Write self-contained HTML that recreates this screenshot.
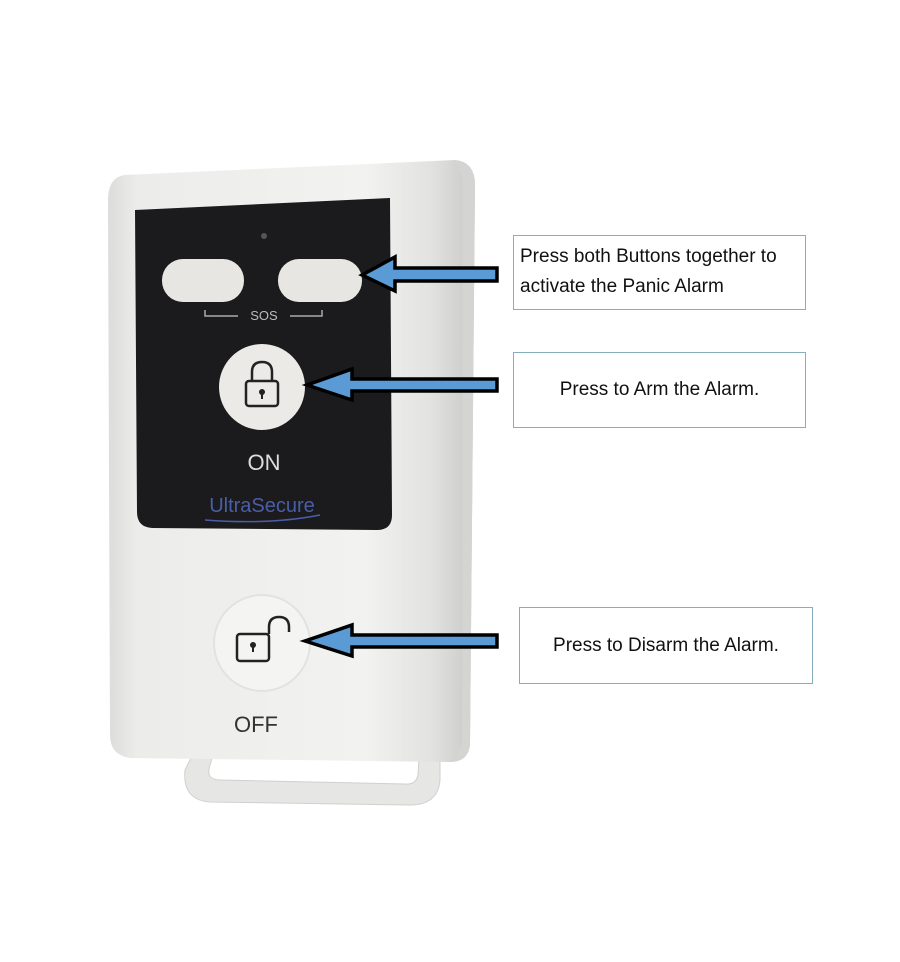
<!DOCTYPE html>
<html><head><meta charset="utf-8"><style>
body{margin:0;background:#fff;width:900px;height:962px;position:relative;overflow:hidden;font-family:"Liberation Sans",sans-serif}
.box{position:absolute;border:1.5px solid #86aebf;background:#fff;font-size:19px;color:#111;box-sizing:border-box;white-space:nowrap}
</style></head><body>
<svg width="900" height="962" style="position:absolute;left:0;top:0">
<defs>
<linearGradient id="body" x1="0" x2="1">
<stop offset="0" stop-color="#dcdcda"/><stop offset="0.08" stop-color="#ececea"/><stop offset="0.7" stop-color="#f2f2f0"/><stop offset="0.88" stop-color="#e2e2e0"/><stop offset="1" stop-color="#c8c8c6"/>
</linearGradient>
</defs>
<path d="M200 740 L185 770 Q182 800 210 802 L410 805 Q438 805 440 780 L440 740 L420 740 L418 775 Q416 785 405 784 L220 780 Q205 780 210 765 L218 740 Z" fill="#e6e6e4" stroke="#d0d0ce"/>
<path d="M125 175 L455 160 Q475 162 475 185 L470 745 Q468 762 450 762 L130 758 Q110 755 110 735 L108 200 Q108 177 125 175 Z" fill="url(#body)"/>
<path d="M455 160 Q475 162 475 185 L470 745 Q468 762 450 762 L462 745 L463 180 Z" fill="#d4d4d2"/>
<path d="M135 210 L390 198 L392 515 Q392 530 377 530 L152 528 Q137 527 137 512 Z" fill="#1b1b1d"/>
<circle cx="264" cy="236" r="3" fill="#555"/>
<rect x="162" y="259" width="82" height="43" rx="21" fill="#e8e6e2"/>
<rect x="278" y="259" width="84" height="43" rx="21" fill="#e8e6e2"/>
<path d="M205 310 V316 H238 M290 316 H322 V310" stroke="#aaa" stroke-width="1.5" fill="none"/>
<text x="264" y="320" font-size="13" fill="#bbb" text-anchor="middle" font-family="Liberation Sans">SOS</text>
<circle cx="262" cy="387" r="43" fill="#eceae6"/>
<path d="M252 381 V372 Q252 362 262 362 Q272 362 272 372 V381" stroke="#222" stroke-width="2.5" fill="none"/>
<rect x="246" y="381" width="32" height="25" rx="3" stroke="#222" stroke-width="2.5" fill="none"/>
<circle cx="262" cy="392" r="3" fill="#222"/><rect x="261" y="392" width="2" height="7" fill="#222"/>
<text x="264" y="470" font-size="22" fill="#ddd" text-anchor="middle">ON</text>
<text x="262" y="512" font-size="20" fill="#4a5ea8" text-anchor="middle">UltraSecure</text>
<path d="M205 520 Q270 525 320 515" stroke="#4a5ea8" stroke-width="1.5" fill="none"/>
<circle cx="262" cy="643" r="48" fill="#f4f4f2" stroke="#e2e2e0" stroke-width="2"/>
<rect x="237" y="634" width="32" height="27" rx="3" stroke="#222" stroke-width="2.5" fill="none"/>
<path d="M269 634 V627 Q269 617 279 617 Q289 617 289 627 V632" stroke="#222" stroke-width="2.5" fill="none"/>
<circle cx="253" cy="645" r="3" fill="#222"/><rect x="252" y="645" width="2" height="7" fill="#222"/>
<text x="256" y="732" font-size="22" fill="#333" text-anchor="middle">OFF</text>
<g fill="#5b9bd5" stroke="#000" stroke-width="3.5" stroke-linejoin="miter">
<path d="M497 268 L395 268 L395 257 L362 275 L395 291 L395 281 L497 281 Z"/>
<path d="M497 379 L352 379 L352 369 L307 385 L352 400 L352 391 L497 391 Z"/>
<path d="M497 635 L352 635 L352 625 L305 641 L352 656 L352 647 L497 647 Z"/>
</g>
</svg>
<div class="box" style="left:513px;top:235px;width:293px;height:75px;padding:6px 6px;line-height:30px">Press both Buttons together to<br>activate the Panic Alarm</div>
<div class="box" style="left:513px;top:352px;width:293px;height:76px;line-height:74px;text-align:center">Press to Arm the Alarm.</div>
<div class="box" style="left:519px;top:607px;width:294px;height:77px;line-height:75px;text-align:center">Press to Disarm the Alarm.</div>
</body></html>
